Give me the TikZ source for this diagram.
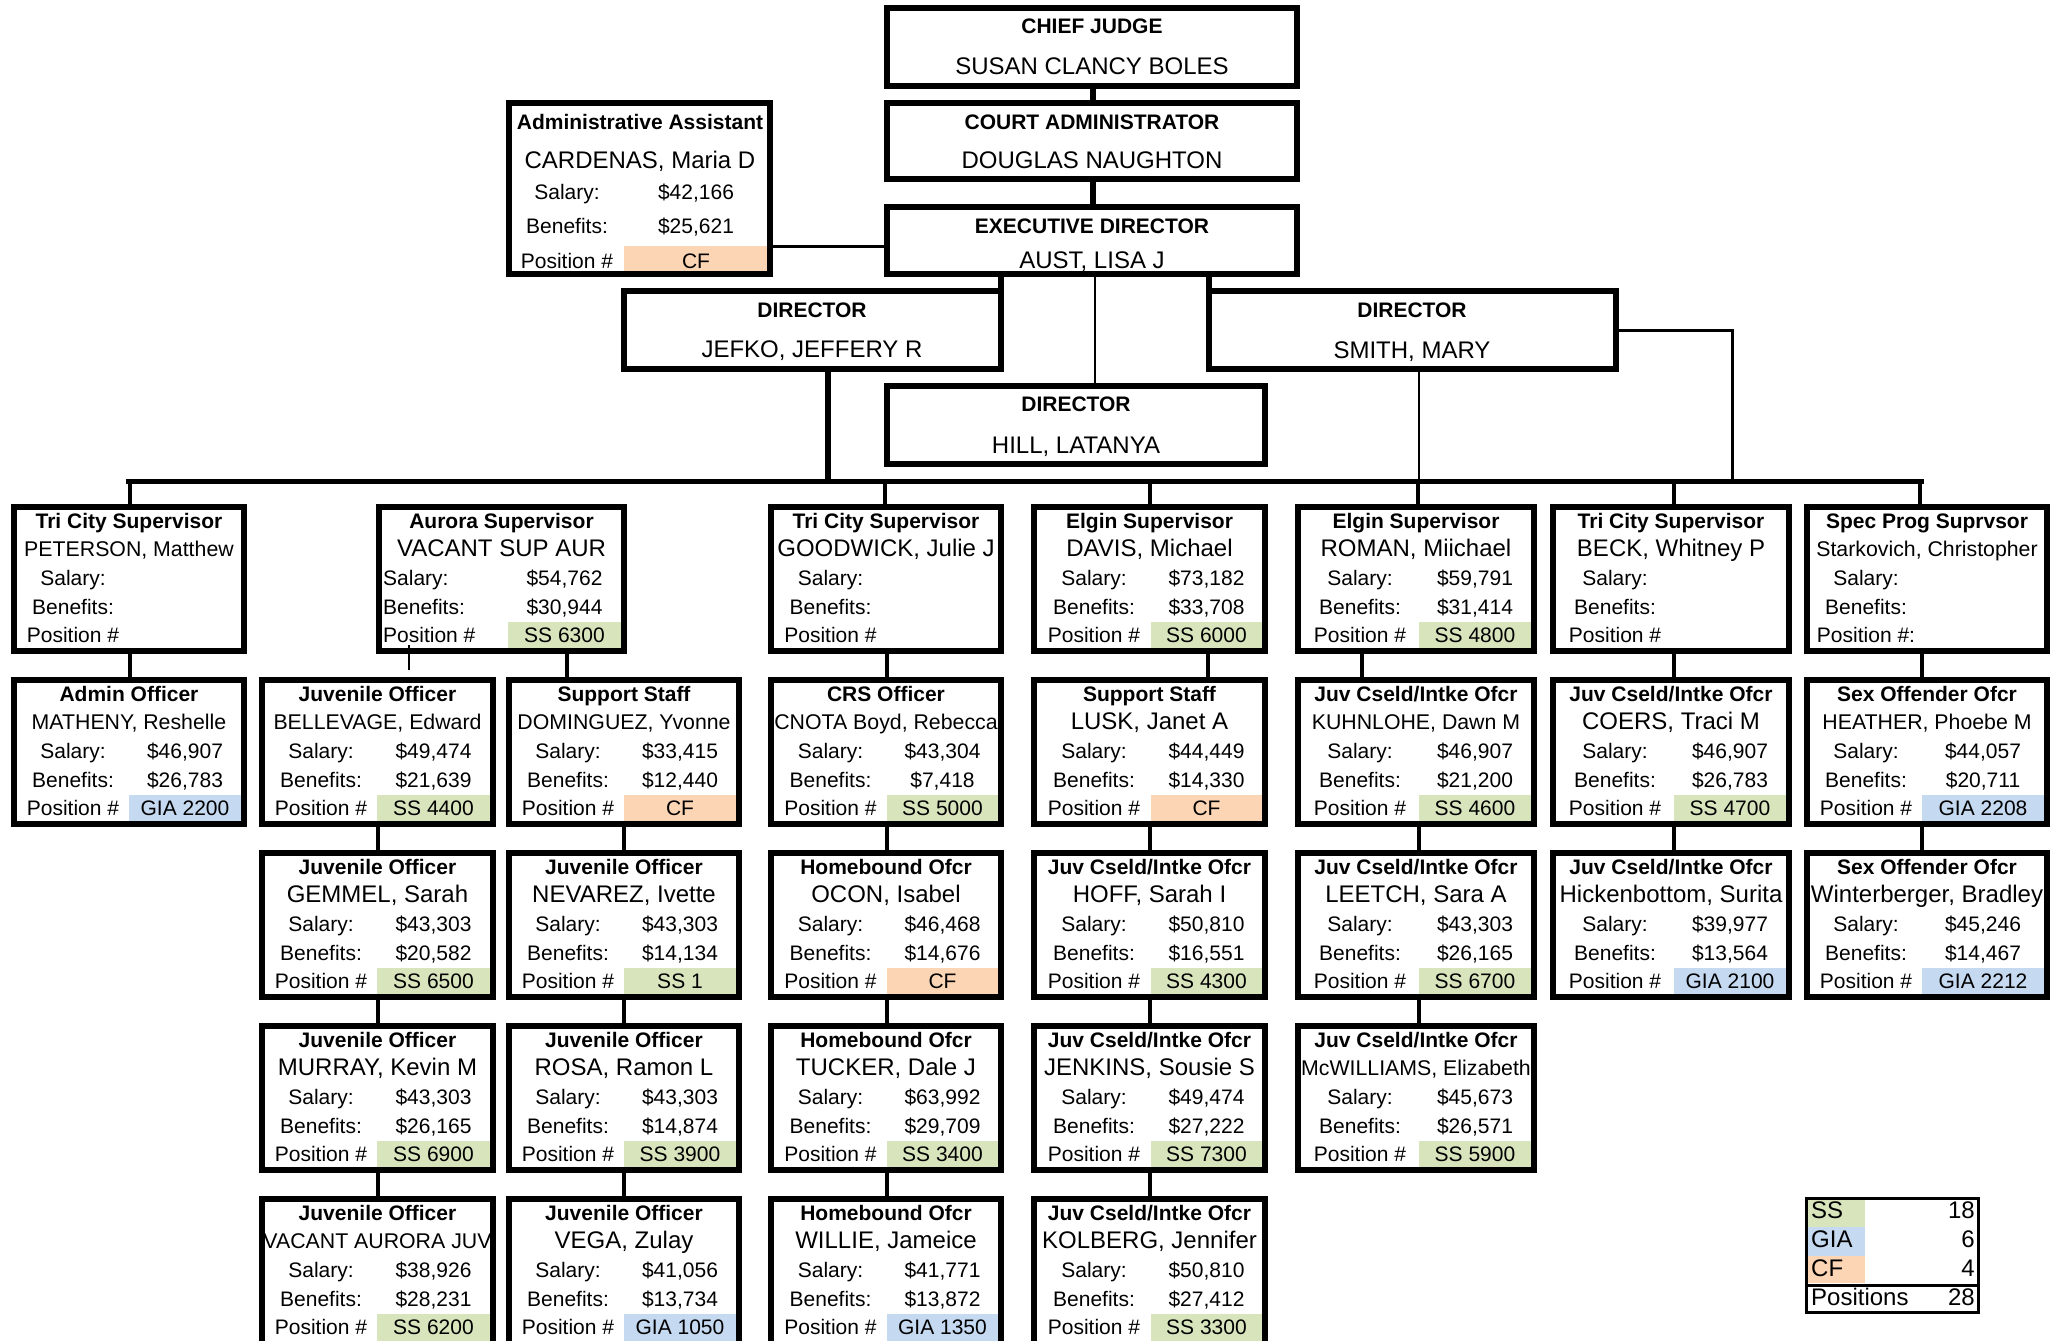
\documentclass[tikz,border=0pt]{standalone}
\usepackage{fontspec}
\setmainfont{Liberation Sans}
\usepackage{graphicx}
\usetikzlibrary{calc}
\definecolor{ssg}{HTML}{D8E4BC}
\definecolor{gia}{HTML}{C5D9F1}
\definecolor{cfo}{HTML}{FCD5B4}
\newcommand\fs[1]{\fontsize{#1}{#1}\selectfont}
\newsavebox\fitbox
\newif\ifnoshrink
\newcommand\fitname[2]{%
  \sbox\fitbox{\fs{24}#2}%
  \ifnoshrink\usebox\fitbox\else
  \ifdim\wd\fitbox>\dimexpr#1pt-6pt\relax
    {\fs{21.3}#2}%
  \else\usebox\fitbox\fi\fi}
\newif\ifleftlab
\def\rowy{504}
\def\cardh{150}
\def\poslabel{Position \#}
\tikzset{
  card/.style={draw, line width=6pt, inner sep=0pt, outer sep=3pt, anchor=north west},
  ttl/.style={font={\fs{21}\bfseries}, anchor=base, inner sep=0pt},
  nm/.style={font={\fs{24}}, anchor=base, inner sep=0pt},
  lab/.style={font={\fs{21}}, inner sep=0pt},
  lg/.style={font={\fs{24}}, inner sep=0pt},
  conn/.style={line width=4pt},
  thickc/.style={line width=6pt},
  thinc/.style={line width=2.5pt},
  busline/.style={line width=5pt},
}
\newcommand\cardpos[6]{%
  \def\tmpc{#6}%
  \ifx\tmpc\empty\else
    \fill[#6] (#2+#4,\rowy+118) rectangle (#3-6,\rowy+\cardh-6);
  \fi
  \node[lab,anchor=base] (#1-pv) at ({(#2+#4+#3-6)/2},\rowy+138.5) {#5};}
\newcommand\card[9]{%
  \node[card, minimum width=#3-#2-6, minimum height=\cardh-6] (#1) at (#2,\rowy) {};
  \cardpos{#1}{#2}{#3}{#4}#9
  \node[ttl] (#1-t) at ({(#2+#3)/2},\rowy+24) {#5};
  \pgfmathsetmacro\innerw{#3-#2-12}
  \begin{scope}
    \clip (#2+6,\rowy+30) rectangle (#3-6,\rowy+62);
    \node[nm] (#1-n) at ({(#2+#3)/2},\rowy+52.5) {\fitname{\innerw}{#6}};
  \end{scope}
  \ifleftlab
    \node[lab,anchor=base west] (#1-sl) at (#2+7,\rowy+81) {Salary:};
    \node[lab,anchor=base west] (#1-bl) at (#2+7,\rowy+110) {Benefits:};
    \node[lab,anchor=base west] (#1-pl) at (#2+7,\rowy+138.5) {\poslabel};
  \else
    \node[lab,anchor=base] (#1-sl) at ({#2+(6+#4)/2},\rowy+81) {Salary:};
    \node[lab,anchor=base] (#1-bl) at ({#2+(6+#4)/2},\rowy+110) {Benefits:};
    \node[lab,anchor=base] (#1-pl) at ({#2+(6+#4)/2},\rowy+138.5) {\poslabel};
  \fi
  \node[lab,anchor=base] (#1-sv) at ({(#2+#4+#3-6)/2},\rowy+81) {#7};
  \node[lab,anchor=base] (#1-bv) at ({(#2+#4+#3-6)/2},\rowy+110) {#8};
}
\begin{document}
\begin{tikzpicture}[x=1pt,y=-1pt]
\useasboundingbox (0,0) rectangle (2059,1341);
\clip (0,0) rectangle (2059,1341);
\fill[white] (0,0) rectangle (2059,1341);

% ---------- top of the chart ----------
\node[card, minimum width=410, minimum height=78] (chief) at (884,5) {};
\node[ttl] (chief-t) at (1092,34) {CHIEF JUDGE};
\node[nm] (chief-n) at (1092,74) {SUSAN CLANCY BOLES};

\node[card, minimum width=410, minimum height=76] (court) at (884,100) {};
\node[ttl] (court-t) at (1092,129) {COURT ADMINISTRATOR};
\node[nm] (court-n) at (1092,168) {DOUGLAS NAUGHTON};

\node[card, minimum width=410, minimum height=67] (exec) at (884,204) {};
\node[ttl] (exec-t) at (1092,233) {EXECUTIVE DIRECTOR};
\node[nm] (exec-n) at (1092,268) {AUST, LISA J};

\node[card, minimum width=261, minimum height=171] (asst) at (506,100) {};
\fill[cfo] (624,246) rectangle (767,271);
\node[ttl] (asst-t) at (640,129) {Administrative Assistant};
\node[nm] (asst-n) at (640,168) {CARDENAS, Maria D};
\node[lab,anchor=base] (asst-sl) at (567,199) {Salary:};
\node[lab,anchor=base] (asst-sv) at (696,199) {\$42,166};
\node[lab,anchor=base] (asst-bl) at (567,233) {Benefits:};
\node[lab,anchor=base] (asst-bv) at (696,233) {\$25,621};
\node[lab,anchor=base] (asst-pl) at (567,268) {Position \#};
\node[lab,anchor=base] (asst-pv) at (696,268) {CF};

\node[card, minimum width=377, minimum height=78] (jefko) at (621,288) {};
\node[ttl] (jefko-t) at (812,317) {DIRECTOR};
\node[nm] (jefko-n) at (812,357) {JEFKO, JEFFERY R};

\node[card, minimum width=378, minimum height=78] (hill) at (884,383) {};
\node[ttl] (hill-t) at (1076,411) {DIRECTOR};
\node[nm] (hill-n) at (1076,453) {HILL, LATANYA};

\node[card, minimum width=407, minimum height=78] (smith) at (1206,288) {};
\node[ttl] (smith-t) at (1412,317) {DIRECTOR};
\node[nm] (smith-n) at (1412,358) {SMITH, MARY};

\draw[thickc] ($(chief.south west)+(209,0)$) -- ($(court.north west)+(209,0)$);
\draw[thickc] ($(court.south west)+(209,0)$) -- ($(exec.north west)+(209,0)$);
\draw[thickc] ($(exec.south west)+(117,0)$) -- ($(jefko.north east)+(-3,0)$);
\draw[thickc] ($(exec.south west)+(325,0)$) -- ($(smith.north west)+(3,0)$);
\draw[thinc] ($(exec.south west)+(211,0)$) -- ($(hill.north west)+(211,0)$);
\draw[line width=3pt] ($(asst.north east)+(0,146)$) -- ($(exec.north west)+(0,42)$);

\coordinate (busL) at (126,481.5);
\coordinate (busR) at (1924,481.5);
\coordinate (smR) at (1732,481.5);
\draw[busline] (busL) -- (busR);
\draw[thickc] ($(jefko.south west)+(207,0)$) -- ($(jefko.south west)+(207,109.5)$);
\draw[thinc] ($(smith.south west)+(213,0)$) -- ($(smith.south west)+(213,109.5)$);
\draw[line width=3pt] ($(smith.north east)+(0,42)$) -| (smR);

% ---------- row 1 ----------
\def\rowy{504}
\card{pet}{11}{247}{118}{Tri City Supervisor}{PETERSON, Matthew}{}{}{{}{}}
\leftlabtrue
\card{aur}{376}{627}{132}{Aurora Supervisor}{VACANT SUP AUR}{\$54,762}{\$30,944}{{SS 6300}{ssg}}
\leftlabfalse
\card{goo}{768}{1004}{119}{Tri City Supervisor}{GOODWICK, Julie J}{}{}{{}{}}
\card{dav}{1031}{1268}{120}{Elgin Supervisor}{DAVIS, Michael}{\$73,182}{\$33,708}{{SS 6000}{ssg}}
\card{rom}{1295}{1537}{124}{Elgin Supervisor}{ROMAN, Miichael}{\$59,791}{\$31,414}{{SS 4800}{ssg}}
\card{bec}{1550}{1792}{124}{Tri City Supervisor}{BECK, Whitney P}{}{}{{}{}}
\def\poslabel{Position \#:}
\card{spe}{1804}{2050}{118}{Spec Prog Suprvsor}{Starkovich, Christopher}{}{}{{}{}}
\def\poslabel{Position \#}

% ---------- row 2 ----------
\def\rowy{677}
\card{mat}{11}{247}{118}{Admin Officer}{MATHENY, Reshelle}{\$46,907}{\$26,783}{{GIA 2200}{gia}}
\card{bel}{259}{496}{118}{Juvenile Officer}{BELLEVAGE, Edward}{\$49,474}{\$21,639}{{SS 4400}{ssg}}
\card{dom}{506}{742}{118}{Support Staff}{DOMINGUEZ, Yvonne}{\$33,415}{\$12,440}{{CF}{cfo}}
\card{cno}{768}{1004}{119}{CRS Officer}{CNOTA Boyd, Rebecca}{\$43,304}{\$7,418}{{SS 5000}{ssg}}
\card{lus}{1031}{1268}{120}{Support Staff}{LUSK, Janet A}{\$44,449}{\$14,330}{{CF}{cfo}}
\card{kuh}{1295}{1537}{124}{Juv Cseld/Intke Ofcr}{KUHNLOHE, Dawn M}{\$46,907}{\$21,200}{{SS 4600}{ssg}}
\card{coe}{1550}{1792}{124}{Juv Cseld/Intke Ofcr}{COERS, Traci M}{\$46,907}{\$26,783}{{SS 4700}{ssg}}
\card{hea}{1804}{2050}{118}{Sex Offender Ofcr}{HEATHER, Phoebe M}{\$44,057}{\$20,711}{{GIA 2208}{gia}}

% ---------- row 3 ----------
\def\rowy{850}
\card{gem}{259}{496}{118}{Juvenile Officer}{GEMMEL, Sarah}{\$43,303}{\$20,582}{{SS 6500}{ssg}}
\card{nev}{506}{742}{118}{Juvenile Officer}{NEVAREZ, Ivette}{\$43,303}{\$14,134}{{SS 1}{ssg}}
\card{oco}{768}{1004}{119}{Homebound Ofcr}{OCON, Isabel}{\$46,468}{\$14,676}{{CF}{cfo}}
\card{hof}{1031}{1268}{120}{Juv Cseld/Intke Ofcr}{HOFF, Sarah I}{\$50,810}{\$16,551}{{SS 4300}{ssg}}
\card{lee}{1295}{1537}{124}{Juv Cseld/Intke Ofcr}{LEETCH, Sara A}{\$43,303}{\$26,165}{{SS 6700}{ssg}}
\card{hic}{1550}{1792}{124}{Juv Cseld/Intke Ofcr}{Hickenbottom, Surita}{\$39,977}{\$13,564}{{GIA 2100}{gia}}
\noshrinktrue
\card{win}{1804}{2050}{118}{Sex Offender Ofcr}{Winterberger, Bradley}{\$45,246}{\$14,467}{{GIA 2212}{gia}}
\noshrinkfalse

% ---------- row 4 ----------
\def\rowy{1023}
\card{mur}{259}{496}{118}{Juvenile Officer}{MURRAY, Kevin M}{\$43,303}{\$26,165}{{SS 6900}{ssg}}
\card{ros}{506}{742}{118}{Juvenile Officer}{ROSA, Ramon L}{\$43,303}{\$14,874}{{SS 3900}{ssg}}
\card{tuc}{768}{1004}{119}{Homebound Ofcr}{TUCKER, Dale J}{\$63,992}{\$29,709}{{SS 3400}{ssg}}
\card{jen}{1031}{1268}{120}{Juv Cseld/Intke Ofcr}{JENKINS, Sousie S}{\$49,474}{\$27,222}{{SS 7300}{ssg}}
\card{mcw}{1295}{1537}{124}{Juv Cseld/Intke Ofcr}{McWILLIAMS, Elizabeth}{\$45,673}{\$26,571}{{SS 5900}{ssg}}

% ---------- row 5 ----------
\def\rowy{1196}
\def\cardh{156}
\card{vac}{259}{496}{118}{Juvenile Officer}{VACANT AURORA JUV}{\$38,926}{\$28,231}{{SS 6200}{ssg}}
\card{veg}{506}{742}{118}{Juvenile Officer}{VEGA, Zulay}{\$41,056}{\$13,734}{{GIA 1050}{gia}}
\card{wil}{768}{1004}{119}{Homebound Ofcr}{WILLIE, Jameice}{\$41,771}{\$13,872}{{GIA 1350}{gia}}
\card{kol}{1031}{1268}{120}{Juv Cseld/Intke Ofcr}{KOLBERG, Jennifer}{\$50,810}{\$27,412}{{SS 3300}{ssg}}

% ---------- drops from the bus ----------
\draw[conn] ($(pet.north west)+(119,0)$) -- ++(0,-23);
\draw[conn] ($(goo.north west)+(117,0)$) -- ++(0,-23);
\draw[conn] ($(dav.north west)+(119,0)$) -- ++(0,-23);
\draw[conn] ($(rom.north west)+(123,0)$) -- ++(0,-23);
\draw[conn] ($(bec.north west)+(124,0)$) -- ++(0,-23);
\draw[conn] ($(spe.north west)+(116,0)$) -- ++(0,-23);

% ---------- row 1 -> row 2 ----------
\draw[conn] ($(pet.south west)+(119,0)$) -- ($(mat.north west)+(119,0)$);
\draw[thinc] ($(aur.south west)+(33,-9)$) -- ($(bel.north west)+(150,-7)$);
\draw[conn] ($(aur.south west)+(191,0)$) -- ($(dom.north west)+(61,0)$);
\draw[conn] ($(goo.south west)+(119,0)$) -- ($(cno.north west)+(119,0)$);
\draw[conn] ($(dav.south west)+(177,0)$) -- ($(lus.north west)+(177,0)$);
\draw[conn] ($(rom.south west)+(67,0)$) -- ($(kuh.north west)+(67,0)$);
\draw[conn] ($(bec.south west)+(124,0)$) -- ($(coe.north west)+(124,0)$);
\draw[conn] ($(spe.south west)+(118,0)$) -- ($(hea.north west)+(118,0)$);
% ---------- row 2 -> row 3 ----------
\draw[conn] ($(bel.south west)+(119,0)$) -- ($(gem.north west)+(119,0)$);
\draw[conn] ($(dom.south west)+(118,0)$) -- ($(nev.north west)+(118,0)$);
\draw[conn] ($(cno.south west)+(119,0)$) -- ($(oco.north west)+(119,0)$);
\draw[conn] ($(lus.south west)+(119,0)$) -- ($(hof.north west)+(119,0)$);
\draw[conn] ($(kuh.south west)+(124,0)$) -- ($(lee.north west)+(124,0)$);
\draw[conn] ($(coe.south west)+(124,0)$) -- ($(hic.north west)+(124,0)$);
\draw[conn] ($(hea.south west)+(118,0)$) -- ($(win.north west)+(118,0)$);
% ---------- row 3 -> row 4 ----------
\draw[conn] ($(gem.south west)+(119,0)$) -- ($(mur.north west)+(119,0)$);
\draw[conn] ($(nev.south west)+(118,0)$) -- ($(ros.north west)+(118,0)$);
\draw[conn] ($(oco.south west)+(119,0)$) -- ($(tuc.north west)+(119,0)$);
\draw[conn] ($(hof.south west)+(119,0)$) -- ($(jen.north west)+(119,0)$);
\draw[conn] ($(lee.south west)+(124,0)$) -- ($(mcw.north west)+(124,0)$);
% ---------- row 4 -> row 5 ----------
\draw[conn] ($(mur.south west)+(119,0)$) -- ($(vac.north west)+(119,0)$);
\draw[conn] ($(ros.south west)+(118,0)$) -- ($(veg.north west)+(118,0)$);
\draw[conn] ($(tuc.south west)+(119,0)$) -- ($(wil.north west)+(119,0)$);
\draw[conn] ($(jen.south west)+(119,0)$) -- ($(kol.north west)+(119,0)$);

% ---------- legend ----------
\node[draw, line width=3pt, inner sep=0pt, outer sep=1.5pt, anchor=north west,
      minimum width=172, minimum height=114] (leg) at (1805,1197) {};
\fill[ssg] ($(leg.north west)+(3,3)$) rectangle ($(leg.north west)+(60,30)$);
\fill[gia] ($(leg.north west)+(3,30)$) rectangle ($(leg.north west)+(60,59)$);
\fill[cfo] ($(leg.north west)+(3,59)$) rectangle ($(leg.north west)+(60,86)$);
\draw[line width=3pt] ($(leg.north west)+(0,88)$) -- ($(leg.north east)+(0,88)$);
\node[lg,anchor=base west] (leg-ss) at (1811,1218) {SS};
\node[lg,anchor=base east] (leg-ssn) at (1975,1218) {18};
\node[lg,anchor=base west] (leg-gia) at (1811,1247) {GIA};
\node[lg,anchor=base east] (leg-gian) at (1975,1247) {6};
\node[lg,anchor=base west] (leg-cf) at (1811,1276) {CF};
\node[lg,anchor=base east] (leg-cfn) at (1975,1276) {4};
\node[lg,anchor=base west] (leg-pos) at (1811,1305) {Positions};
\node[lg,anchor=base east] (leg-posn) at (1975,1305) {28};
\end{tikzpicture}
\end{document}
